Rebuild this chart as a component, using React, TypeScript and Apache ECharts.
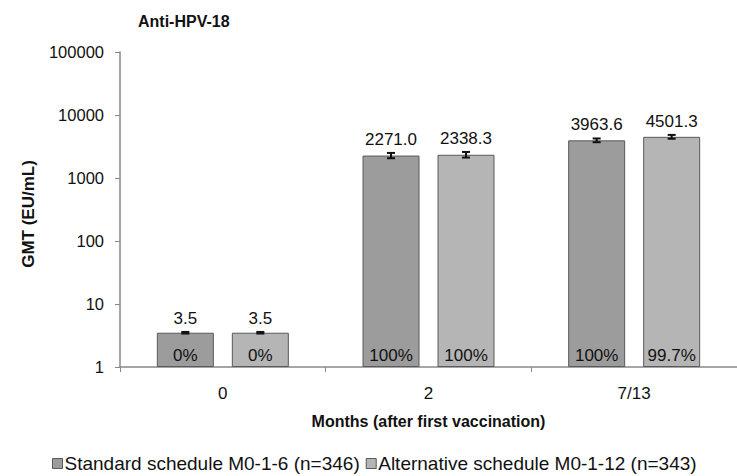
import React, { useEffect, useRef } from "react";
import * as echarts from "echarts";

const categories = ["0", "2", "7/13"];
const standardValues = [3.5, 2271.0, 3963.6];
const alternativeValues = [3.5, 2338.3, 4501.3];
const standardLow = [3.4, 2060, 3700];
const standardHigh = [3.6, 2500, 4240];
const alternativeLow = [3.4, 2110, 4200];
const alternativeHigh = [3.6, 2590, 4830];
const standardPct = ["0%", "100%", "100%"];
const alternativePct = ["0%", "100%", "99.7%"];
const yTicks = [1, 10, 100, 1000, 10000, 100000];
const seriesNames = ["Standard schedule M0-1-6 (n=346)", "Alternative schedule M0-1-12 (n=343)"];

export default function App() {
  const ref = useRef<HTMLDivElement>(null);
  useEffect(() => {
    if (!ref.current) return;
    const chart = echarts.init(ref.current, null, { renderer: "svg" });
    const font = "Liberation Sans, Arial, sans-serif";
    const BAR_W = 57;
    const OFFSET = 37.5;
    const errData: any[] = [];
    categories.forEach((_, i) => {
      errData.push([i, standardLow[i], standardHigh[i], -1]);
      errData.push([i, alternativeLow[i], alternativeHigh[i], 1]);
    });
    const mkBar = (name: string, vals: number[], pct: string[], color: string) => ({
      name,
      type: "bar",
      barWidth: BAR_W,
      barGap: (18 / BAR_W) * 100 + "%",
      data: vals,
      itemStyle: { color, borderColor: "#5a5a5a", borderWidth: 1 },
      label: {
        show: true,
        position: "insideBottom",
        distance: 3,
        formatter: (p: any) => pct[p.dataIndex],
        fontFamily: font,
        fontSize: 17,
        color: "#111",
      },
    });
    const mkValLabels = (vals: number[], high: number[], sign: number) => ({
      type: "custom",
      silent: true,
      z: 5,
      renderItem: (params: any, api: any) => {
        const i = api.value(0);
        const p = api.coord([i, api.value(1)]);
        return {
          type: "text",
          style: {
            text: Number(api.value(2)).toFixed(1),
            x: p[0] + sign * OFFSET,
            y: p[1] - 5,
            textAlign: "center",
            textVerticalAlign: "bottom",
            fontFamily: font,
            fontSize: 17,
            fill: "#111",
          },
        };
      },
      data: vals.map((v, i) => [i, high[i], v]),
    });
    chart.setOption({
      animation: false,
      backgroundColor: "#fff",
      title: {
        text: "Anti-HPV-18",
        left: 133,
        top: 8,
        textStyle: { fontFamily: font, fontSize: 16, fontWeight: "bold", color: "#111" },
      },
      legend: {
        left: 52,
        top: 454,
        padding: 0,
        itemWidth: 10,
        itemHeight: 10,
        itemGap: 6,
        icon: "rect",
        itemStyle: { borderColor: "#5a5a5a", borderWidth: 1 },
        textStyle: { fontFamily: font, fontSize: 19, color: "#111", padding: [0, 0, 0, -3] },
        data: seriesNames,
      },
      grid: { left: 120, right: -3, top: 52, bottom: 109 },
      xAxis: {
        type: "category",
        data: categories,
        axisLine: { lineStyle: { color: "#888", width: 1.5 } },
        axisTick: { show: true, alignWithLabel: false, length: 5, lineStyle: { color: "#888" } },
        axisLabel: { fontFamily: font, fontSize: 17, color: "#111", margin: 18 },
        name: "Months (after first vaccination)",
        nameLocation: "middle",
        nameGap: 46,
        nameTextStyle: { fontFamily: font, fontSize: 16, fontWeight: "bold", color: "#111" },
      },
      yAxis: {
        type: "log",
        logBase: 10,
        min: 1,
        max: 100000,
        axisLine: { show: true, lineStyle: { color: "#888", width: 1.5 } },
        axisTick: { show: true, length: 5, lineStyle: { color: "#888" } },
        splitLine: { show: false },
        minorTick: { show: false },
        axisLabel: {
          fontFamily: font,
          fontSize: 16.5,
          color: "#111",
          margin: 16,
          formatter: (v: number) => {
            const t = yTicks.find((x) => Math.abs(x - v) / x < 1e-6);
            return t !== undefined ? String(t) : "";
          },
        },
        name: "GMT (EU/mL)",
        nameLocation: "middle",
        nameGap: 83,
        nameTextStyle: { fontFamily: font, fontSize: 17, fontWeight: "bold", color: "#111", padding: [0, 0, 0, -9] },
      },
      series: [
        mkBar(seriesNames[0], standardValues, standardPct, "#9c9c9c"),
        mkBar(seriesNames[1], alternativeValues, alternativePct, "#b5b5b5"),
        {
          type: "custom",
          silent: true,
          z: 6,
          renderItem: (params: any, api: any) => {
            const i = api.value(0);
            const side = api.value(3);
            const lo = api.coord([i, api.value(1)]);
            const hi = api.coord([i, api.value(2)]);
            const x = lo[0] + side * OFFSET;
            const cap = 4;
            const st = { stroke: "#111", lineWidth: 2 };
            return {
              type: "group",
              children: [
                { type: "line", shape: { x1: x, y1: lo[1], x2: x, y2: hi[1] }, style: st },
                { type: "line", shape: { x1: x - cap, y1: lo[1], x2: x + cap, y2: lo[1] }, style: st },
                { type: "line", shape: { x1: x - cap, y1: hi[1], x2: x + cap, y2: hi[1] }, style: st },
              ],
            };
          },
          data: errData,
        },
        mkValLabels(standardValues, standardHigh, -1),
        mkValLabels(alternativeValues, alternativeHigh, 1),
      ],
    });
    return () => chart.dispose();
  }, []);
  return <div ref={ref} style={{ width: 737, height: 476, position: "absolute", left: 0, top: 0 }} />;
}
